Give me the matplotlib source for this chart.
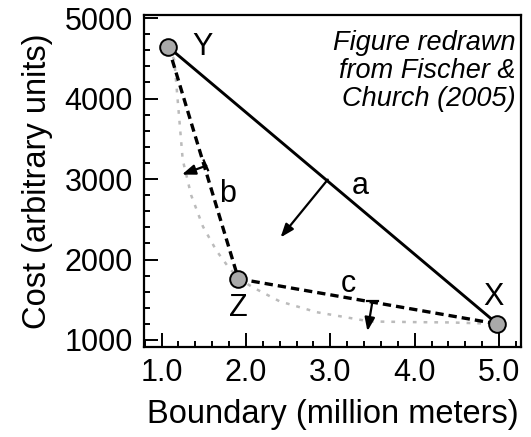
"""Cost vs boundary length trade-off sketch."""

import matplotlib

matplotlib.use("Agg")
import matplotlib.pyplot as plt
from matplotlib.ticker import MultipleLocator

plt.rcParams["font.family"] = ["Liberation Sans", "DejaVu Sans"]

# corner solutions
point_names = ["Y", "Z", "X"]
point_boundary = [1.08, 1.91, 4.98]
point_cost = [4640, 1760, 1200]

# approximate efficient frontier (dotted grey)
frontier_boundary = [1.08, 1.15, 1.21, 1.25, 1.35, 1.49, 1.65, 1.81, 1.95, 2.08, 2.4, 2.84, 3.47, 4.0, 4.42, 4.98]
frontier_cost = [4640, 4480, 3740, 3240, 2800, 2410, 2110, 1880, 1740, 1655, 1480, 1345, 1230, 1222, 1218, 1200]

# line labels
seg_labels = ["a", "b", "c"]
seg_label_x = [3.35, 1.78, 3.21]
seg_label_y = [2910, 2810, 1690]

# arrows (start on line, end inside)
arrow_start_x = [2.97, 1.53, 3.50]
arrow_start_y = [2993, 3166, 1481]
arrow_end_x = [2.41, 1.24, 3.44]
arrow_end_y = [2274, 3055, 1109]

fig = plt.figure(figsize=(5.31, 4.37), dpi=100)
ax = fig.add_axes([0.271, 0.206, 0.71, 0.76])

ax.plot(frontier_boundary, frontier_cost, color="#bbbbbb", lw=1.8, linestyle=(0, (1.5, 2.8)), zorder=1)

# a: X-Y solid, b: Y-Z dashed, c: Z-X dashed
ax.plot([point_boundary[0], point_boundary[2]], [point_cost[0], point_cost[2]], color="black", lw=2.1, zorder=2)
ax.plot(point_boundary[:2], point_cost[:2], color="black", lw=2.4, linestyle=(0, (2.5, 1.5)), zorder=2)
ax.plot(point_boundary[1:], point_cost[1:], color="black", lw=2.4, linestyle=(0, (2.5, 1.5)), zorder=2)

for sx, sy, ex, ey in zip(arrow_start_x, arrow_start_y, arrow_end_x, arrow_end_y):
    ax.annotate("", xy=(ex, ey), xytext=(sx, sy),
                arrowprops=dict(arrowstyle="-|>,head_length=0.8,head_width=0.3", color="black", lw=1.6,
                                shrinkA=0, shrinkB=0), zorder=3)

# small base ticks on arrows b and c
ax.plot([1.50, 1.55], [3230, 3110], color="black", lw=1.6)
ax.plot([3.44, 3.56], [1481, 1481], color="black", lw=1.6)

ax.plot(point_boundary, point_cost, "o", ms=12, mfc="#aaaaaa", mec="black", mew=1.4, zorder=4)

ax.text(1.49, 4640, "Y", fontsize=22, ha="center", va="center")
ax.text(1.91, 1400, "Z", fontsize=22, ha="center", va="center")
ax.text(4.93, 1530, "X", fontsize=22, ha="center", va="center")
for lab, lx, ly in zip(seg_labels, seg_label_x, seg_label_y):
    ax.text(lx, ly, lab, fontsize=22, ha="center", va="center")

ax.text(0.985, 0.955, "Figure redrawn\nfrom Fischer &\nChurch (2005)", transform=ax.transAxes,
        ha="right", va="top", fontsize=19.5, style="italic", linespacing=1.1)

ax.set_xlim(0.79, 5.26)
ax.set_ylim(913, 5040)
ax.set_xticks([1, 2, 3, 4, 5])
ax.set_xticklabels(["1.0", "2.0", "3.0", "4.0", "5.0"])
ax.set_yticks([1000, 2000, 3000, 4000, 5000])
ax.xaxis.set_minor_locator(MultipleLocator(0.2))
ax.yaxis.set_minor_locator(MultipleLocator(200))
ax.tick_params(which="both", direction="in", labelsize=22, width=1.4)
ax.tick_params(which="major", length=10, pad=8)
ax.tick_params(which="minor", length=4.5)
for sp in ax.spines.values():
    sp.set_linewidth(1.6)

ax.set_xlabel("Boundary (million meters)", fontsize=23.5, labelpad=8)
ax.set_ylabel("Cost (arbitrary units)", fontsize=23.5, labelpad=8)

fig.savefig("out.png", dpi=100)
